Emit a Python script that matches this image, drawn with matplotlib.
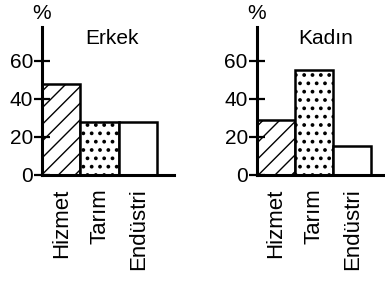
import matplotlib
matplotlib.use("Agg")
import matplotlib.pyplot as plt

categories = ["Hizmet", "Tarım", "Endüstri"]
erkek = [48, 28, 28]
kadin = [29, 55, 15]
panel_titles = ["Erkek", "Kadın"]
y_ticks = [0, 20, 40, 60]
hatches = ["//", "..", ""]
hatch_widths = [1.0, 1.5, 1.0]

plt.rcParams["font.family"] = ["Liberation Sans", "DejaVu Sans"]
plt.rcParams["hatch.linewidth"] = 1.0

fig = plt.figure(figsize=(3.85, 2.81), dpi=100)
ax_left = fig.add_axes([0.109, 0.378, 0.343, 0.525])
ax_right = fig.add_axes([0.667, 0.378, 0.34, 0.525])

for ax, values, title in zip([ax_left, ax_right], [erkek, kadin], panel_titles):
    xs = [i + 0.5 for i in range(len(categories))]
    bars = ax.bar(xs, values, width=1.0, color="white", edgecolor="black",
                  linewidth=1.8, hatch=hatches)
    for bar, hw in zip(bars, hatch_widths):
        try:
            bar.set_hatch_linewidth(hw)
        except AttributeError:
            pass
    ax.set_xlim(0, 3.43)
    ax.set_ylim(0, 77.7)
    ax.set_yticks(y_ticks)
    ax.set_xticks(xs)
    ax.set_xticklabels(categories, rotation=90, fontsize=16, va="top")
    ax.tick_params(axis="x", length=0, pad=10)
    ax.tick_params(axis="y", direction="inout", length=11, width=1.6,
                   labelsize=15, pad=1)
    for side in ["top", "right"]:
        ax.spines[side].set_visible(False)
    for side in ["left", "bottom"]:
        ax.spines[side].set_linewidth(2.2)
    ax.text(0.53, 0.925, title, transform=ax.transAxes, ha="center",
            va="center", fontsize=15)
    ax.text(0.0, 1.03, "%", transform=ax.transAxes, ha="center",
            va="bottom", fontsize=15)
    ax.patch.set_alpha(0)

fig.savefig("out.png", dpi=100)
